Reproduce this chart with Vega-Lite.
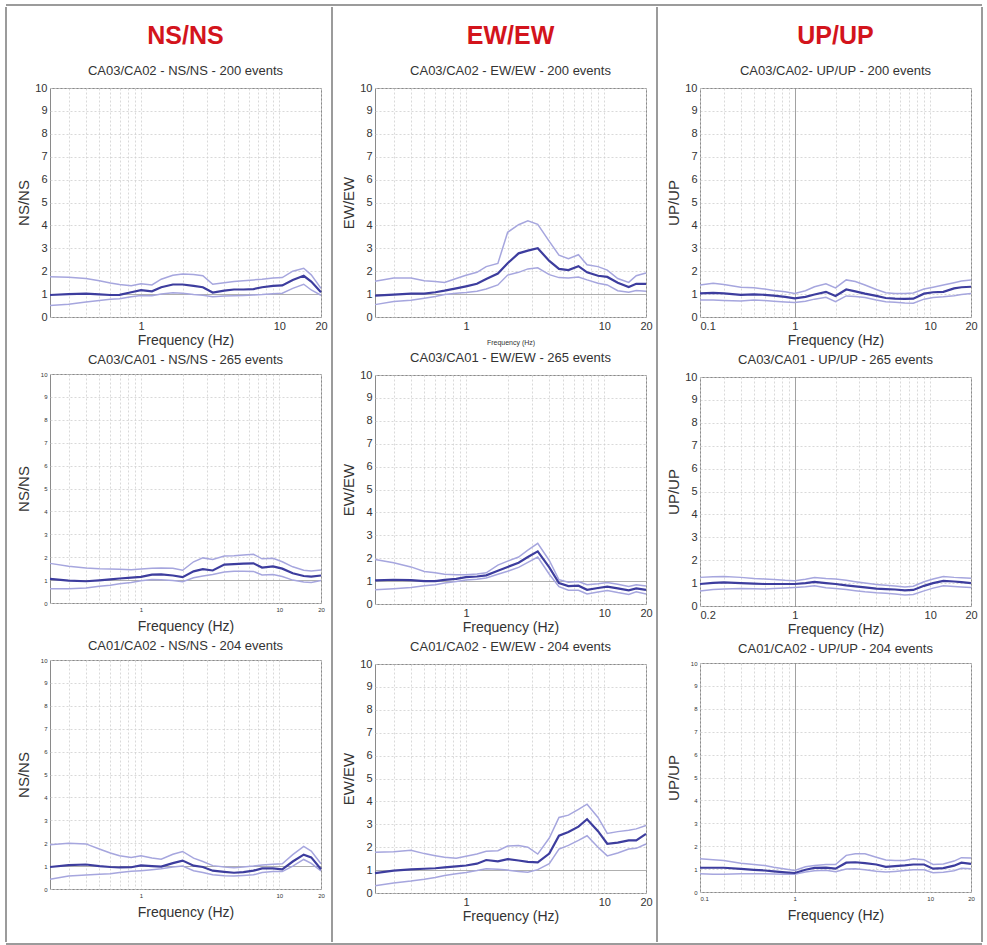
{
  "$schema": "https://vega.github.io/schema/vega-lite/v6.json",
  "background": "white",
  "padding": {"left": 5, "top": 4, "right": 0, "bottom": 0},
  "config": {
    "font": "Liberation Sans",
    "view": {"stroke": "#8a8a8a", "strokeWidth": 1},
    "axis": {
      "grid": true, "gridColor": "#cfcfcf", "gridDash": [2, 2], "gridWidth": 0.8,
      "domain": false, "ticks": false, "tickSize": 0,
      "labelColor": "#333333", "titleColor": "#333333",
      "labelFont": "Liberation Sans", "titleFont": "Liberation Sans",
      "titleFontWeight": "normal", "labelPadding": 3, "labelOverlap": false,
      "labelFlush": false, "labelFontSize": 11
    },
    "axisX": {"minExtent": 14, "maxExtent": 14, "titlePadding": 2, "titleFontSize": 14, "tickCount": 24},
    "axisY": {"minExtent": 16, "maxExtent": 16, "titlePadding": 3, "titleFontSize": 15, "tickCount": 12},
    "title": {"anchor": "middle", "frame": "group", "fontSize": 13, "fontWeight": "normal", "color": "#333333", "offset": 4, "font": "Liberation Sans"}
  },
  "datasets": {
    "ns1": [
      {"f":0.22,"lo":0.5,"m":0.96,"hi":1.76},{"f":0.3,"lo":0.56,"m":1.0,"hi":1.74},{"f":0.4,"lo":0.66,"m":1.02,"hi":1.68},
      {"f":0.5,"lo":0.72,"m":0.99,"hi":1.58},{"f":0.6,"lo":0.77,"m":0.96,"hi":1.48},{"f":0.7,"lo":0.8,"m":0.97,"hi":1.42},
      {"f":0.85,"lo":0.88,"m":1.08,"hi":1.36},{"f":1,"lo":0.94,"m":1.17,"hi":1.45},{"f":1.2,"lo":0.93,"m":1.12,"hi":1.4},
      {"f":1.4,"lo":1.0,"m":1.3,"hi":1.65},{"f":1.7,"lo":1.06,"m":1.42,"hi":1.82},{"f":2,"lo":1.04,"m":1.42,"hi":1.88},
      {"f":2.4,"lo":0.98,"m":1.36,"hi":1.86},{"f":2.8,"lo":0.95,"m":1.3,"hi":1.8},{"f":3.3,"lo":0.88,"m":1.07,"hi":1.43},
      {"f":4,"lo":0.92,"m":1.15,"hi":1.5},{"f":4.7,"lo":0.93,"m":1.2,"hi":1.55},{"f":5.5,"lo":0.94,"m":1.2,"hi":1.58},
      {"f":6.5,"lo":0.96,"m":1.22,"hi":1.62},{"f":7.5,"lo":0.98,"m":1.3,"hi":1.65},{"f":9,"lo":1.02,"m":1.36,"hi":1.7},
      {"f":10.5,"lo":1.04,"m":1.38,"hi":1.72},{"f":12.5,"lo":1.25,"m":1.62,"hi":2.0},{"f":15,"lo":1.43,"m":1.8,"hi":2.13},
      {"f":17,"lo":1.18,"m":1.55,"hi":1.84},{"f":20,"lo":0.95,"m":1.08,"hi":1.25}
    ],
    "ew1": [
      {"f":0.22,"lo":0.54,"m":0.93,"hi":1.56},{"f":0.3,"lo":0.68,"m":0.98,"hi":1.7},{"f":0.4,"lo":0.73,"m":1.02,"hi":1.7},
      {"f":0.5,"lo":0.82,"m":1.02,"hi":1.58},{"f":0.6,"lo":0.9,"m":1.08,"hi":1.55},{"f":0.7,"lo":0.98,"m":1.15,"hi":1.51},
      {"f":0.85,"lo":1.04,"m":1.25,"hi":1.68},{"f":1,"lo":1.07,"m":1.34,"hi":1.82},{"f":1.2,"lo":1.12,"m":1.45,"hi":1.95},
      {"f":1.4,"lo":1.22,"m":1.66,"hi":2.2},{"f":1.7,"lo":1.4,"m":1.9,"hi":2.34},{"f":2,"lo":1.83,"m":2.35,"hi":3.7},
      {"f":2.4,"lo":1.95,"m":2.78,"hi":4.03},{"f":2.8,"lo":2.1,"m":2.9,"hi":4.2},{"f":3.3,"lo":2.15,"m":3.0,"hi":4.05},
      {"f":4,"lo":1.85,"m":2.45,"hi":3.3},{"f":4.7,"lo":1.72,"m":2.1,"hi":2.7},{"f":5.5,"lo":1.7,"m":2.05,"hi":2.55},
      {"f":6.5,"lo":1.75,"m":2.22,"hi":2.72},{"f":7.5,"lo":1.62,"m":1.95,"hi":2.28},{"f":9,"lo":1.47,"m":1.8,"hi":2.2},
      {"f":10.5,"lo":1.4,"m":1.75,"hi":2.05},{"f":12.5,"lo":1.15,"m":1.5,"hi":1.68},{"f":15,"lo":1.08,"m":1.31,"hi":1.51},
      {"f":17,"lo":1.16,"m":1.45,"hi":1.8},{"f":20,"lo":1.12,"m":1.45,"hi":1.92}
    ],
    "up1": [
      {"f":0.2,"lo":0.74,"m":1.03,"hi":1.4},{"f":0.25,"lo":0.74,"m":1.05,"hi":1.47},{"f":0.3,"lo":0.72,"m":1.03,"hi":1.42},
      {"f":0.4,"lo":0.7,"m":0.97,"hi":1.3},{"f":0.5,"lo":0.74,"m":0.99,"hi":1.28},{"f":0.6,"lo":0.72,"m":0.97,"hi":1.22},
      {"f":0.7,"lo":0.69,"m":0.93,"hi":1.16},{"f":0.85,"lo":0.66,"m":0.88,"hi":1.1},{"f":1,"lo":0.63,"m":0.81,"hi":1.03},
      {"f":1.2,"lo":0.69,"m":0.88,"hi":1.15},{"f":1.4,"lo":0.78,"m":0.98,"hi":1.32},{"f":1.7,"lo":0.86,"m":1.1,"hi":1.45},
      {"f":2,"lo":0.67,"m":0.92,"hi":1.27},{"f":2.4,"lo":0.92,"m":1.2,"hi":1.62},{"f":2.8,"lo":0.9,"m":1.12,"hi":1.55},
      {"f":3.3,"lo":0.85,"m":1.02,"hi":1.4},{"f":4,"lo":0.74,"m":0.92,"hi":1.2},{"f":4.7,"lo":0.67,"m":0.83,"hi":1.06},
      {"f":5.5,"lo":0.64,"m":0.8,"hi":1.03},{"f":6.5,"lo":0.61,"m":0.79,"hi":1.03},{"f":7.5,"lo":0.6,"m":0.8,"hi":1.05},
      {"f":9,"lo":0.78,"m":1.02,"hi":1.22},{"f":10.5,"lo":0.85,"m":1.08,"hi":1.3},{"f":12.5,"lo":0.88,"m":1.1,"hi":1.4},
      {"f":15,"lo":0.93,"m":1.25,"hi":1.5},{"f":17,"lo":0.98,"m":1.3,"hi":1.57},{"f":20,"lo":1.03,"m":1.32,"hi":1.62}
    ],
    "ns2": [
      {"f":0.22,"lo":0.62,"m":1.05,"hi":1.73},{"f":0.3,"lo":0.62,"m":0.98,"hi":1.6},{"f":0.4,"lo":0.66,"m":0.95,"hi":1.53},
      {"f":0.5,"lo":0.73,"m":0.99,"hi":1.5},{"f":0.6,"lo":0.78,"m":1.03,"hi":1.49},{"f":0.7,"lo":0.84,"m":1.07,"hi":1.47},
      {"f":0.85,"lo":0.9,"m":1.11,"hi":1.45},{"f":1,"lo":0.97,"m":1.14,"hi":1.48},{"f":1.2,"lo":1.03,"m":1.24,"hi":1.52},
      {"f":1.4,"lo":1.02,"m":1.25,"hi":1.53},{"f":1.7,"lo":0.98,"m":1.2,"hi":1.52},{"f":2,"lo":0.93,"m":1.13,"hi":1.43},
      {"f":2.4,"lo":1.1,"m":1.38,"hi":1.8},{"f":2.8,"lo":1.18,"m":1.48,"hi":1.97},{"f":3.3,"lo":1.24,"m":1.42,"hi":1.9},
      {"f":4,"lo":1.35,"m":1.68,"hi":2.05},{"f":4.7,"lo":1.39,"m":1.7,"hi":2.06},{"f":5.5,"lo":1.39,"m":1.72,"hi":2.1},
      {"f":6.5,"lo":1.38,"m":1.73,"hi":2.13},{"f":7.5,"lo":1.22,"m":1.55,"hi":1.93},{"f":9,"lo":1.24,"m":1.6,"hi":1.95},
      {"f":10.5,"lo":1.16,"m":1.5,"hi":1.8},{"f":12.5,"lo":1.0,"m":1.3,"hi":1.58},{"f":15,"lo":0.92,"m":1.18,"hi":1.43},
      {"f":17,"lo":0.9,"m":1.15,"hi":1.4},{"f":20,"lo":0.98,"m":1.2,"hi":1.44}
    ],
    "ew2": [
      {"f":0.22,"lo":0.62,"m":1.03,"hi":1.94},{"f":0.3,"lo":0.67,"m":1.06,"hi":1.8},{"f":0.4,"lo":0.72,"m":1.04,"hi":1.62},
      {"f":0.5,"lo":0.8,"m":1.0,"hi":1.42},{"f":0.6,"lo":0.84,"m":1.0,"hi":1.36},{"f":0.7,"lo":0.92,"m":1.05,"hi":1.3},
      {"f":0.85,"lo":0.98,"m":1.1,"hi":1.28},{"f":1,"lo":1.05,"m":1.17,"hi":1.28},{"f":1.2,"lo":1.08,"m":1.2,"hi":1.31},
      {"f":1.4,"lo":1.14,"m":1.25,"hi":1.36},{"f":1.7,"lo":1.3,"m":1.45,"hi":1.7},{"f":2,"lo":1.43,"m":1.62,"hi":1.87},
      {"f":2.4,"lo":1.6,"m":1.8,"hi":2.05},{"f":2.8,"lo":1.82,"m":2.05,"hi":2.35},{"f":3.3,"lo":2.05,"m":2.3,"hi":2.65},
      {"f":4,"lo":1.3,"m":1.6,"hi":1.9},{"f":4.7,"lo":0.76,"m":0.91,"hi":1.06},{"f":5.5,"lo":0.6,"m":0.78,"hi":0.95},
      {"f":6.5,"lo":0.6,"m":0.8,"hi":0.98},{"f":7.5,"lo":0.44,"m":0.62,"hi":0.84},{"f":9,"lo":0.52,"m":0.7,"hi":0.88},
      {"f":10.5,"lo":0.59,"m":0.76,"hi":0.94},{"f":12.5,"lo":0.5,"m":0.68,"hi":0.86},{"f":15,"lo":0.42,"m":0.6,"hi":0.77},
      {"f":17,"lo":0.53,"m":0.68,"hi":0.84},{"f":20,"lo":0.44,"m":0.62,"hi":0.79}
    ],
    "up2": [
      {"f":0.2,"lo":0.66,"m":0.96,"hi":1.25},{"f":0.25,"lo":0.72,"m":1.01,"hi":1.28},{"f":0.3,"lo":0.74,"m":1.03,"hi":1.29},
      {"f":0.4,"lo":0.76,"m":1.0,"hi":1.25},{"f":0.5,"lo":0.75,"m":0.98,"hi":1.2},{"f":0.6,"lo":0.74,"m":0.96,"hi":1.18},
      {"f":0.7,"lo":0.76,"m":0.96,"hi":1.16},{"f":0.85,"lo":0.79,"m":0.96,"hi":1.12},{"f":1,"lo":0.81,"m":0.96,"hi":1.1},
      {"f":1.2,"lo":0.84,"m":1.0,"hi":1.17},{"f":1.4,"lo":0.88,"m":1.05,"hi":1.24},{"f":1.7,"lo":0.8,"m":1.0,"hi":1.2},
      {"f":2,"lo":0.76,"m":0.96,"hi":1.18},{"f":2.4,"lo":0.72,"m":0.9,"hi":1.12},{"f":2.8,"lo":0.67,"m":0.86,"hi":1.06},
      {"f":3.3,"lo":0.62,"m":0.81,"hi":1.0},{"f":4,"lo":0.58,"m":0.76,"hi":0.94},{"f":4.7,"lo":0.56,"m":0.74,"hi":0.91},
      {"f":5.5,"lo":0.52,"m":0.72,"hi":0.87},{"f":6.5,"lo":0.48,"m":0.68,"hi":0.83},{"f":7.5,"lo":0.5,"m":0.7,"hi":0.86},
      {"f":9,"lo":0.66,"m":0.88,"hi":1.06},{"f":10.5,"lo":0.78,"m":1.0,"hi":1.18},{"f":12.5,"lo":0.88,"m":1.1,"hi":1.29},
      {"f":15,"lo":0.85,"m":1.07,"hi":1.25},{"f":17,"lo":0.83,"m":1.04,"hi":1.23},{"f":20,"lo":0.81,"m":1.0,"hi":1.21}
    ],
    "ns3": [
      {"f":0.22,"lo":0.43,"m":0.96,"hi":1.93},{"f":0.3,"lo":0.57,"m":1.04,"hi":2.0},{"f":0.4,"lo":0.61,"m":1.07,"hi":1.97},
      {"f":0.5,"lo":0.64,"m":1.0,"hi":1.75},{"f":0.6,"lo":0.67,"m":0.96,"hi":1.57},{"f":0.7,"lo":0.72,"m":0.94,"hi":1.45},
      {"f":0.85,"lo":0.77,"m":0.95,"hi":1.38},{"f":1,"lo":0.8,"m":1.03,"hi":1.45},{"f":1.2,"lo":0.84,"m":1.0,"hi":1.35},
      {"f":1.4,"lo":0.88,"m":0.98,"hi":1.3},{"f":1.7,"lo":0.96,"m":1.13,"hi":1.52},{"f":2,"lo":1.0,"m":1.24,"hi":1.64},
      {"f":2.4,"lo":0.8,"m":1.02,"hi":1.35},{"f":2.8,"lo":0.72,"m":0.96,"hi":1.2},{"f":3.3,"lo":0.62,"m":0.8,"hi":1.02},
      {"f":4,"lo":0.58,"m":0.75,"hi":0.96},{"f":4.7,"lo":0.57,"m":0.71,"hi":0.93},{"f":5.5,"lo":0.59,"m":0.74,"hi":0.96},
      {"f":6.5,"lo":0.62,"m":0.8,"hi":1.0},{"f":7.5,"lo":0.72,"m":0.9,"hi":1.05},{"f":9,"lo":0.76,"m":0.9,"hi":1.08},
      {"f":10.5,"lo":0.76,"m":0.86,"hi":1.1},{"f":12.5,"lo":1.0,"m":1.2,"hi":1.5},{"f":15,"lo":1.29,"m":1.5,"hi":1.86},
      {"f":17,"lo":1.12,"m":1.38,"hi":1.66},{"f":20,"lo":0.79,"m":0.86,"hi":1.1}
    ],
    "ew3": [
      {"f":0.22,"lo":0.32,"m":0.87,"hi":1.78},{"f":0.3,"lo":0.44,"m":0.98,"hi":1.8},{"f":0.4,"lo":0.52,"m":1.03,"hi":1.87},
      {"f":0.5,"lo":0.6,"m":1.06,"hi":1.72},{"f":0.6,"lo":0.68,"m":1.08,"hi":1.63},{"f":0.7,"lo":0.76,"m":1.12,"hi":1.56},
      {"f":0.85,"lo":0.84,"m":1.16,"hi":1.52},{"f":1,"lo":0.9,"m":1.2,"hi":1.6},{"f":1.2,"lo":0.98,"m":1.28,"hi":1.7},
      {"f":1.4,"lo":1.06,"m":1.44,"hi":1.82},{"f":1.7,"lo":1.04,"m":1.38,"hi":1.85},{"f":2,"lo":1.0,"m":1.48,"hi":2.05},
      {"f":2.4,"lo":0.94,"m":1.42,"hi":2.07},{"f":2.8,"lo":0.91,"m":1.36,"hi":2.0},{"f":3.3,"lo":1.02,"m":1.34,"hi":1.7},
      {"f":4,"lo":1.28,"m":1.72,"hi":2.4},{"f":4.7,"lo":1.92,"m":2.5,"hi":3.3},{"f":5.5,"lo":2.08,"m":2.66,"hi":3.4},
      {"f":6.5,"lo":2.3,"m":2.9,"hi":3.65},{"f":7.5,"lo":2.5,"m":3.22,"hi":3.88},{"f":9,"lo":2.0,"m":2.7,"hi":3.3},
      {"f":10.5,"lo":1.62,"m":2.15,"hi":2.6},{"f":12.5,"lo":1.75,"m":2.2,"hi":2.68},{"f":15,"lo":1.92,"m":2.3,"hi":2.74},
      {"f":17,"lo":1.95,"m":2.3,"hi":2.8},{"f":20,"lo":2.14,"m":2.58,"hi":2.95}
    ],
    "up3": [
      {"f":0.2,"lo":0.8,"m":1.06,"hi":1.45},{"f":0.25,"lo":0.78,"m":1.06,"hi":1.41},{"f":0.3,"lo":0.77,"m":1.06,"hi":1.38},
      {"f":0.4,"lo":0.8,"m":1.01,"hi":1.26},{"f":0.5,"lo":0.8,"m":0.97,"hi":1.2},{"f":0.6,"lo":0.8,"m":0.94,"hi":1.16},
      {"f":0.7,"lo":0.79,"m":0.9,"hi":1.08},{"f":0.85,"lo":0.78,"m":0.86,"hi":1.0},{"f":1,"lo":0.77,"m":0.83,"hi":0.94},
      {"f":1.2,"lo":0.87,"m":0.97,"hi":1.1},{"f":1.4,"lo":0.93,"m":1.05,"hi":1.16},{"f":1.7,"lo":0.95,"m":1.06,"hi":1.2},
      {"f":2,"lo":0.88,"m":1.02,"hi":1.2},{"f":2.4,"lo":1.0,"m":1.28,"hi":1.6},{"f":2.8,"lo":1.01,"m":1.3,"hi":1.67},
      {"f":3.3,"lo":0.97,"m":1.26,"hi":1.67},{"f":4,"lo":0.91,"m":1.2,"hi":1.52},{"f":4.7,"lo":0.87,"m":1.1,"hi":1.4},
      {"f":5.5,"lo":0.9,"m":1.13,"hi":1.38},{"f":6.5,"lo":0.94,"m":1.16,"hi":1.38},{"f":7.5,"lo":0.97,"m":1.2,"hi":1.45},
      {"f":9,"lo":0.97,"m":1.2,"hi":1.41},{"f":10.5,"lo":0.84,"m":1.02,"hi":1.2},{"f":12.5,"lo":0.86,"m":1.04,"hi":1.22},
      {"f":15,"lo":0.93,"m":1.15,"hi":1.35},{"f":17,"lo":1.04,"m":1.28,"hi":1.5},{"f":20,"lo":1.01,"m":1.23,"hi":1.49}
    ]
  },
  "spacing": 0,
  "vconcat": [
    {
      "width": 976, "height": 1, "view": {"stroke": null},
      "data": {"values": [{"p": 1}]},
      "mark": {"type": "rule", "color": "#7a7a7a", "strokeWidth": 1.5},
      "encoding": {"y": {"field": "p", "type": "quantitative", "scale": {"domain": [0, 1]}, "axis": null}}
    },
    {
      "spacing": 3,
      "hconcat": [
        {
          "width": 6, "height": 935, "view": {"stroke": null},
          "data": {"values": [{"p": 0}]},
          "mark": {"type": "rule", "color": "#7a7a7a", "strokeWidth": 1.5},
          "encoding": {"x": {"field": "p", "type": "quantitative", "scale": {"domain": [0, 1]}, "axis": null}}
        },
        {
          "spacing": 5,
          "vconcat": [
            {"width": 1, "height": 11, "view": {"stroke": null}, "data": {"values": [{}]}, "mark": {"type": "text"}, "encoding": {"text": {"value": ""}}},
            {
              "width": 271, "height": 229,
              "title": {"text": "NS/NS", "subtitle": "CA03/CA02 -  NS/NS - 200 events", "fontSize": 25, "fontWeight": "bold", "color": "#d3141c", "subtitleFontSize": 13, "subtitleColor": "#333333", "subtitleFont": "Liberation Sans", "subtitlePadding": 16},
              "data": {"name": "ns1"},
              "layer": [
                {"mark": {"type": "line", "color": "#a6a6de", "strokeWidth": 1.5}, "encoding": {"x": {"field": "f", "type": "quantitative", "scale": {"type": "log", "domain": [0.22, 20], "nice": false}}, "y": {"field": "hi", "type": "quantitative", "scale": {"domain": [0, 10]}}}},
                {"mark": {"type": "line", "color": "#a6a6de", "strokeWidth": 1.5}, "encoding": {"x": {"field": "f", "type": "quantitative", "scale": {"type": "log", "domain": [0.22, 20], "nice": false}}, "y": {"field": "lo", "type": "quantitative", "scale": {"domain": [0, 10]}}}},
                {"mark": {"type": "line", "color": "#3d3d9e", "strokeWidth": 2.2}, "encoding": {
                  "x": {"field": "f", "type": "quantitative", "scale": {"type": "log", "domain": [0.22, 20], "nice": false}, "axis": {"title": "Frequency (Hz)", "tickCount": 24, "values": [0.3,0.4,0.5,0.6,0.7,0.8,0.9,1,2,3,4,5,6,7,8,9,10,20], "format": "~g", "labelExpr": "datum.value == 1 || datum.value == 10 || datum.value == 20 ? datum.label : ''"}},
                  "y": {"field": "m", "type": "quantitative", "scale": {"domain": [0, 10]}, "axis": {"title": "NS/NS", "values": [0,1,2,3,4,5,6,7,8,9,10], "tickCount": 12, "labelOverlap": false, "gridColor": {"condition": {"test": "datum.value == 1", "value": "#9a9a9a"}, "value": "#cfcfcf"}, "gridDash": {"condition": {"test": "datum.value == 1", "value": []}, "value": [2, 2]}}}}}
              ]
            },
            {
              "width": 271, "height": 229,
              "title": "CA03/CA01 -  NS/NS - 265 events",
              "data": {"name": "ns2"},
              "layer": [
                {"mark": {"type": "line", "color": "#a6a6de", "strokeWidth": 1.5}, "encoding": {"x": {"field": "f", "type": "quantitative", "scale": {"type": "log", "domain": [0.22, 20], "nice": false}}, "y": {"field": "hi", "type": "quantitative", "scale": {"domain": [0, 10]}}}},
                {"mark": {"type": "line", "color": "#a6a6de", "strokeWidth": 1.5}, "encoding": {"x": {"field": "f", "type": "quantitative", "scale": {"type": "log", "domain": [0.22, 20], "nice": false}}, "y": {"field": "lo", "type": "quantitative", "scale": {"domain": [0, 10]}}}},
                {"mark": {"type": "line", "color": "#3d3d9e", "strokeWidth": 2.2}, "encoding": {
                  "x": {"field": "f", "type": "quantitative", "scale": {"type": "log", "domain": [0.22, 20], "nice": false}, "axis": {"title": "Frequency (Hz)", "tickCount": 24, "labelFontSize": 6, "values": [0.3,0.4,0.5,0.6,0.7,0.8,0.9,1,2,3,4,5,6,7,8,9,10,20], "format": "~g", "labelExpr": "datum.value == 1 || datum.value == 10 || datum.value == 20 ? datum.label : ''"}},
                  "y": {"field": "m", "type": "quantitative", "scale": {"domain": [0, 10]}, "axis": {"title": "NS/NS", "labelFontSize": 6, "values": [0,1,2,3,4,5,6,7,8,9,10], "tickCount": 12, "labelOverlap": false, "gridColor": {"condition": {"test": "datum.value == 1", "value": "#9a9a9a"}, "value": "#cfcfcf"}, "gridDash": {"condition": {"test": "datum.value == 1", "value": []}, "value": [2, 2]}}}}}
              ]
            },
            {
              "width": 271, "height": 229,
              "title": "CA01/CA02 -  NS/NS - 204 events",
              "data": {"name": "ns3"},
              "layer": [
                {"mark": {"type": "line", "color": "#a6a6de", "strokeWidth": 1.5}, "encoding": {"x": {"field": "f", "type": "quantitative", "scale": {"type": "log", "domain": [0.22, 20], "nice": false}}, "y": {"field": "hi", "type": "quantitative", "scale": {"domain": [0, 10]}}}},
                {"mark": {"type": "line", "color": "#a6a6de", "strokeWidth": 1.5}, "encoding": {"x": {"field": "f", "type": "quantitative", "scale": {"type": "log", "domain": [0.22, 20], "nice": false}}, "y": {"field": "lo", "type": "quantitative", "scale": {"domain": [0, 10]}}}},
                {"mark": {"type": "line", "color": "#3d3d9e", "strokeWidth": 2.2}, "encoding": {
                  "x": {"field": "f", "type": "quantitative", "scale": {"type": "log", "domain": [0.22, 20], "nice": false}, "axis": {"title": "Frequency (Hz)", "tickCount": 24, "labelFontSize": 6, "values": [0.3,0.4,0.5,0.6,0.7,0.8,0.9,1,2,3,4,5,6,7,8,9,10,20], "format": "~g", "labelExpr": "datum.value == 1 || datum.value == 10 || datum.value == 20 ? datum.label : ''"}},
                  "y": {"field": "m", "type": "quantitative", "scale": {"domain": [0, 10]}, "axis": {"title": "NS/NS", "labelFontSize": 6, "values": [0,1,2,3,4,5,6,7,8,9,10], "tickCount": 12, "labelOverlap": false, "gridColor": {"condition": {"test": "datum.value == 1", "value": "#9a9a9a"}, "value": "#cfcfcf"}, "gridDash": {"condition": {"test": "datum.value == 1", "value": []}, "value": [2, 2]}}}}}
              ]
            }
          ]
        },
        {
          "width": 5, "height": 935, "view": {"stroke": null},
          "data": {"values": [{"p": 0}]},
          "mark": {"type": "rule", "color": "#7a7a7a", "strokeWidth": 1.5},
          "encoding": {"x": {"field": "p", "type": "quantitative", "scale": {"domain": [0, 1]}, "axis": null}}
        },
        {
          "spacing": 5,
          "vconcat": [
            {"width": 1, "height": 11, "view": {"stroke": null}, "data": {"values": [{}]}, "mark": {"type": "text"}, "encoding": {"text": {"value": ""}}},
            {
              "width": 271, "height": 229,
              "title": {"text": "EW/EW", "subtitle": "CA03/CA02 -  EW/EW - 200 events", "fontSize": 25, "fontWeight": "bold", "color": "#d3141c", "subtitleFontSize": 13, "subtitleColor": "#333333", "subtitleFont": "Liberation Sans", "subtitlePadding": 16},
              "data": {"name": "ew1"},
              "layer": [
                {"mark": {"type": "line", "color": "#a6a6de", "strokeWidth": 1.5}, "encoding": {"x": {"field": "f", "type": "quantitative", "scale": {"type": "log", "domain": [0.22, 20], "nice": false}}, "y": {"field": "hi", "type": "quantitative", "scale": {"domain": [0, 10]}}}},
                {"mark": {"type": "line", "color": "#a6a6de", "strokeWidth": 1.5}, "encoding": {"x": {"field": "f", "type": "quantitative", "scale": {"type": "log", "domain": [0.22, 20], "nice": false}}, "y": {"field": "lo", "type": "quantitative", "scale": {"domain": [0, 10]}}}},
                {"mark": {"type": "line", "color": "#3d3d9e", "strokeWidth": 2.2}, "encoding": {
                  "x": {"field": "f", "type": "quantitative", "scale": {"type": "log", "domain": [0.22, 20], "nice": false}, "axis": {"title": "Frequency (Hz)", "tickCount": 24, "titleFontSize": 7, "titlePadding": 7, "values": [0.3,0.4,0.5,0.6,0.7,0.8,0.9,1,2,3,4,5,6,7,8,9,10,20], "format": "~g", "labelExpr": "datum.value == 1 || datum.value == 10 || datum.value == 20 ? datum.label : ''"}},
                  "y": {"field": "m", "type": "quantitative", "scale": {"domain": [0, 10]}, "axis": {"title": "EW/EW", "values": [0,1,2,3,4,5,6,7,8,9,10], "tickCount": 12, "labelOverlap": false, "gridColor": {"condition": {"test": "datum.value == 1", "value": "#9a9a9a"}, "value": "#cfcfcf"}, "gridDash": {"condition": {"test": "datum.value == 1", "value": []}, "value": [2, 2]}}}}}
              ]
            },
            {
              "width": 271, "height": 229,
              "title": "CA03/CA01 -  EW/EW - 265 events",
              "data": {"name": "ew2"},
              "layer": [
                {"mark": {"type": "line", "color": "#a6a6de", "strokeWidth": 1.5}, "encoding": {"x": {"field": "f", "type": "quantitative", "scale": {"type": "log", "domain": [0.22, 20], "nice": false}}, "y": {"field": "hi", "type": "quantitative", "scale": {"domain": [0, 10]}}}},
                {"mark": {"type": "line", "color": "#a6a6de", "strokeWidth": 1.5}, "encoding": {"x": {"field": "f", "type": "quantitative", "scale": {"type": "log", "domain": [0.22, 20], "nice": false}}, "y": {"field": "lo", "type": "quantitative", "scale": {"domain": [0, 10]}}}},
                {"mark": {"type": "line", "color": "#3d3d9e", "strokeWidth": 2.2}, "encoding": {
                  "x": {"field": "f", "type": "quantitative", "scale": {"type": "log", "domain": [0.22, 20], "nice": false}, "axis": {"title": "Frequency (Hz)", "tickCount": 24, "values": [0.3,0.4,0.5,0.6,0.7,0.8,0.9,1,2,3,4,5,6,7,8,9,10,20], "format": "~g", "labelExpr": "datum.value == 1 || datum.value == 10 || datum.value == 20 ? datum.label : ''"}},
                  "y": {"field": "m", "type": "quantitative", "scale": {"domain": [0, 10]}, "axis": {"title": "EW/EW", "values": [0,1,2,3,4,5,6,7,8,9,10], "tickCount": 12, "labelOverlap": false, "gridColor": {"condition": {"test": "datum.value == 1", "value": "#9a9a9a"}, "value": "#cfcfcf"}, "gridDash": {"condition": {"test": "datum.value == 1", "value": []}, "value": [2, 2]}}}}}
              ]
            },
            {
              "width": 271, "height": 229,
              "title": "CA01/CA02 -  EW/EW - 204 events",
              "data": {"name": "ew3"},
              "layer": [
                {"mark": {"type": "line", "color": "#a6a6de", "strokeWidth": 1.5}, "encoding": {"x": {"field": "f", "type": "quantitative", "scale": {"type": "log", "domain": [0.22, 20], "nice": false}}, "y": {"field": "hi", "type": "quantitative", "scale": {"domain": [0, 10]}}}},
                {"mark": {"type": "line", "color": "#a6a6de", "strokeWidth": 1.5}, "encoding": {"x": {"field": "f", "type": "quantitative", "scale": {"type": "log", "domain": [0.22, 20], "nice": false}}, "y": {"field": "lo", "type": "quantitative", "scale": {"domain": [0, 10]}}}},
                {"mark": {"type": "line", "color": "#3d3d9e", "strokeWidth": 2.2}, "encoding": {
                  "x": {"field": "f", "type": "quantitative", "scale": {"type": "log", "domain": [0.22, 20], "nice": false}, "axis": {"title": "Frequency (Hz)", "tickCount": 24, "values": [0.3,0.4,0.5,0.6,0.7,0.8,0.9,1,2,3,4,5,6,7,8,9,10,20], "format": "~g", "labelExpr": "datum.value == 1 || datum.value == 10 || datum.value == 20 ? datum.label : ''"}},
                  "y": {"field": "m", "type": "quantitative", "scale": {"domain": [0, 10]}, "axis": {"title": "EW/EW", "values": [0,1,2,3,4,5,6,7,8,9,10], "tickCount": 12, "labelOverlap": false, "gridColor": {"condition": {"test": "datum.value == 1", "value": "#9a9a9a"}, "value": "#cfcfcf"}, "gridDash": {"condition": {"test": "datum.value == 1", "value": []}, "value": [2, 2]}}}}}
              ]
            }
          ]
        },
        {
          "width": 5, "height": 935, "view": {"stroke": null},
          "data": {"values": [{"p": 0}]},
          "mark": {"type": "rule", "color": "#7a7a7a", "strokeWidth": 1.5},
          "encoding": {"x": {"field": "p", "type": "quantitative", "scale": {"domain": [0, 1]}, "axis": null}}
        },
        {
          "spacing": 5,
          "vconcat": [
            {"width": 1, "height": 11, "view": {"stroke": null}, "data": {"values": [{}]}, "mark": {"type": "text"}, "encoding": {"text": {"value": ""}}},
            {
              "width": 271, "height": 229,
              "title": {"text": "UP/UP", "subtitle": "CA03/CA02- UP/UP - 200 events", "fontSize": 25, "fontWeight": "bold", "color": "#d3141c", "subtitleFontSize": 13, "subtitleColor": "#333333", "subtitleFont": "Liberation Sans", "subtitlePadding": 16},
              "data": {"name": "up1"},
              "layer": [
                {"mark": {"type": "line", "color": "#a6a6de", "strokeWidth": 1.5}, "encoding": {"x": {"field": "f", "type": "quantitative", "scale": {"type": "log", "domain": [0.2, 20], "nice": false}}, "y": {"field": "hi", "type": "quantitative", "scale": {"domain": [0, 10]}}}},
                {"mark": {"type": "line", "color": "#a6a6de", "strokeWidth": 1.5}, "encoding": {"x": {"field": "f", "type": "quantitative", "scale": {"type": "log", "domain": [0.2, 20], "nice": false}}, "y": {"field": "lo", "type": "quantitative", "scale": {"domain": [0, 10]}}}},
                {"mark": {"type": "line", "color": "#3d3d9e", "strokeWidth": 2.2}, "encoding": {
                  "x": {"field": "f", "type": "quantitative", "scale": {"type": "log", "domain": [0.2, 20], "nice": false}, "axis": {"title": "Frequency (Hz)", "tickCount": 24, "values": [0.2,0.3,0.4,0.5,0.6,0.7,0.8,0.9,1,2,3,4,5,6,7,8,9,10,20], "format": "~g", "labelExpr": "datum.value == 0.2 ? '0.1' : datum.value == 1 || datum.value == 10 || datum.value == 20 ? datum.label : ''", "labelAlign": {"condition": {"test": "datum.value < 0.25", "value": "left"}, "value": "center"}, "gridColor": {"condition": {"test": "datum.value == 1", "value": "#8a8a8a"}, "value": "#cfcfcf"}, "gridDash": {"condition": {"test": "datum.value == 1", "value": []}, "value": [2, 2]}}},
                  "y": {"field": "m", "type": "quantitative", "scale": {"domain": [0, 10]}, "axis": {"title": "UP/UP", "values": [0,1,2,3,4,5,6,7,8,9,10], "tickCount": 12, "labelOverlap": false}}}}
              ]
            },
            {
              "width": 271, "height": 229,
              "title": "CA03/CA01 - UP/UP - 265 events",
              "data": {"name": "up2"},
              "layer": [
                {"mark": {"type": "line", "color": "#a6a6de", "strokeWidth": 1.5}, "encoding": {"x": {"field": "f", "type": "quantitative", "scale": {"type": "log", "domain": [0.2, 20], "nice": false}}, "y": {"field": "hi", "type": "quantitative", "scale": {"domain": [0, 10]}}}},
                {"mark": {"type": "line", "color": "#a6a6de", "strokeWidth": 1.5}, "encoding": {"x": {"field": "f", "type": "quantitative", "scale": {"type": "log", "domain": [0.2, 20], "nice": false}}, "y": {"field": "lo", "type": "quantitative", "scale": {"domain": [0, 10]}}}},
                {"mark": {"type": "line", "color": "#3d3d9e", "strokeWidth": 2.2}, "encoding": {
                  "x": {"field": "f", "type": "quantitative", "scale": {"type": "log", "domain": [0.2, 20], "nice": false}, "axis": {"title": "Frequency (Hz)", "tickCount": 24, "values": [0.2,0.3,0.4,0.5,0.6,0.7,0.8,0.9,1,2,3,4,5,6,7,8,9,10,20], "format": "~g", "labelExpr": "datum.value == 0.2 || datum.value == 1 || datum.value == 10 || datum.value == 20 ? datum.label : ''", "labelAlign": {"condition": {"test": "datum.value < 0.25", "value": "left"}, "value": "center"}, "gridColor": {"condition": {"test": "datum.value == 1", "value": "#8a8a8a"}, "value": "#cfcfcf"}, "gridDash": {"condition": {"test": "datum.value == 1", "value": []}, "value": [2, 2]}}},
                  "y": {"field": "m", "type": "quantitative", "scale": {"domain": [0, 10]}, "axis": {"title": "UP/UP", "values": [0,1,2,3,4,5,6,7,8,9,10], "tickCount": 12, "labelOverlap": false}}}}
              ]
            },
            {
              "width": 271, "height": 229,
              "title": "CA01/CA02 - UP/UP - 204 events",
              "data": {"name": "up3"},
              "layer": [
                {"mark": {"type": "line", "color": "#a6a6de", "strokeWidth": 1.5}, "encoding": {"x": {"field": "f", "type": "quantitative", "scale": {"type": "log", "domain": [0.2, 20], "nice": false}}, "y": {"field": "hi", "type": "quantitative", "scale": {"domain": [0, 10]}}}},
                {"mark": {"type": "line", "color": "#a6a6de", "strokeWidth": 1.5}, "encoding": {"x": {"field": "f", "type": "quantitative", "scale": {"type": "log", "domain": [0.2, 20], "nice": false}}, "y": {"field": "lo", "type": "quantitative", "scale": {"domain": [0, 10]}}}},
                {"mark": {"type": "line", "color": "#3d3d9e", "strokeWidth": 2.2}, "encoding": {
                  "x": {"field": "f", "type": "quantitative", "scale": {"type": "log", "domain": [0.2, 20], "nice": false}, "axis": {"title": "Frequency (Hz)", "tickCount": 24, "labelFontSize": 6, "values": [0.2,0.3,0.4,0.5,0.6,0.7,0.8,0.9,1,2,3,4,5,6,7,8,9,10,20], "format": "~g", "labelExpr": "datum.value == 0.2 ? '0.1' : datum.value == 1 || datum.value == 10 || datum.value == 20 ? datum.label : ''", "labelAlign": {"condition": {"test": "datum.value < 0.25", "value": "left"}, "value": "center"}, "gridColor": {"condition": {"test": "datum.value == 1", "value": "#8a8a8a"}, "value": "#cfcfcf"}, "gridDash": {"condition": {"test": "datum.value == 1", "value": []}, "value": [2, 2]}}},
                  "y": {"field": "m", "type": "quantitative", "scale": {"domain": [0, 10]}, "axis": {"title": "UP/UP", "labelFontSize": 6, "values": [0,1,2,3,4,5,6,7,8,9,10], "tickCount": 12, "labelOverlap": false}}}}
              ]
            }
          ]
        },
        {
          "width": 1, "height": 935, "view": {"stroke": null},
          "data": {"values": [{"p": 0}]},
          "mark": {"type": "rule", "color": "#7a7a7a", "strokeWidth": 1.5},
          "encoding": {"x": {"field": "p", "type": "quantitative", "scale": {"domain": [0, 1]}, "axis": null}}
        }
      ]
    },
    {
      "width": 976, "height": 1, "view": {"stroke": null},
      "data": {"values": [{"p": 0}]},
      "mark": {"type": "rule", "color": "#7a7a7a", "strokeWidth": 1.5},
      "encoding": {"y": {"field": "p", "type": "quantitative", "scale": {"domain": [0, 1]}, "axis": null}}
    }
  ]
}
